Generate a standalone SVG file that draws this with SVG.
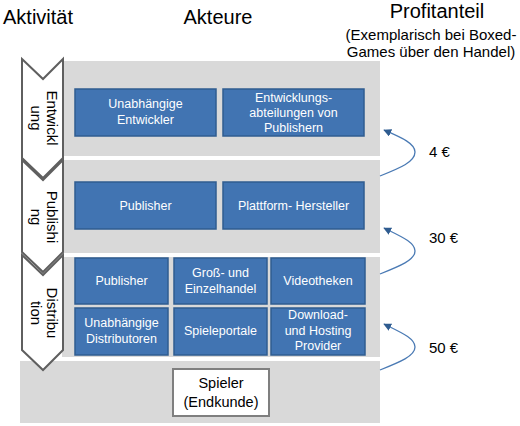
<svg xmlns="http://www.w3.org/2000/svg" width="520" height="426" viewBox="0 0 520 426">
<defs>
<style>
text{font-family:"Liberation Sans",Arial,sans-serif;}
.hdr{font-size:20px;fill:#000;}
.sub{font-size:15px;fill:#000;text-anchor:middle;}
.band{fill:#D9D9D9;}
.box{fill:#4174B2;stroke:#2F5C90;stroke-width:1.5;}
.bt{font-size:12.5px;fill:#fff;text-anchor:middle;}
.chev{fill:#fff;stroke:#5F5F5F;stroke-width:2;stroke-linejoin:miter;}
.ct{font-size:15px;fill:#000;text-anchor:middle;}
.arr{fill:none;stroke:#4A7AB4;stroke-width:1.3;}
.eur{font-size:15px;fill:#000;}
</style>
<marker id="ah" viewBox="0 0 10 10" refX="9" refY="5" markerWidth="8" markerHeight="8" markerUnits="userSpaceOnUse" orient="auto">
<path d="M0,0 L10,5 L0,10 z" fill="#2F5C90"/>
</marker>
</defs>

<g id="headers">
<text class="hdr" x="3" y="24">Aktivität</text>
<text class="hdr" x="218" y="24" text-anchor="middle">Akteure</text>
<text class="hdr" x="437" y="18" text-anchor="middle">Profitanteil</text>
<text class="sub" x="431" y="40">(Exemplarisch bei Boxed-</text>
<text class="sub" x="431" y="57">Games über den Handel)</text>
</g>

<g id="bands">
<rect class="band" x="62" y="61" width="318" height="95"/>
<rect class="band" x="62" y="160" width="318" height="93"/>
<rect class="band" x="62" y="257" width="318" height="100"/>
<rect class="band" x="20" y="361" width="360" height="62"/>
</g>

<g id="chevron-entwicklung">
<path class="chev" d="M22,59 L43,79 L63,59 L63,158 L43,178 L22,158 Z"/>
<g transform="translate(42.5,118) rotate(90)">
<text class="ct" x="0" y="-4.5">Entwickl</text>
<text class="ct" x="0" y="11.5">ung</text>
</g>
</g>

<g id="chevron-publishing">
<path class="chev" d="M22,160 L43,180 L63,160 L63,252 L43,272 L22,252 Z"/>
<g transform="translate(42.5,217) rotate(90)">
<text class="ct" x="0" y="-4.5">Publishi</text>
<text class="ct" x="0" y="11.5">ng</text>
</g>
</g>

<g id="chevron-distribution">
<path class="chev" d="M22,255 L43,275 L63,255 L63,350 L43,370 L22,350 Z"/>
<g transform="translate(42.5,313) rotate(90)">
<text class="ct" x="0" y="-4.5">Distribu</text>
<text class="ct" x="0" y="11.5">tion</text>
</g>
</g>

<g id="unabhaengige-entwickler">
<rect class="box" x="75" y="89" width="141" height="47"/>
<text class="bt" x="145.5" y="108">Unabhängige</text>
<text class="bt" x="145.5" y="124">Entwickler</text>
</g>
<g id="entwicklungsabteilungen">
<rect class="box" x="223" y="89" width="141" height="47"/>
<text class="bt" x="293.5" y="102">Entwicklungs-</text>
<text class="bt" x="293.5" y="117">abteilungen von</text>
<text class="bt" x="293.5" y="132">Publishern</text>
</g>
<g id="publisher-1">
<rect class="box" x="75" y="182" width="141" height="47"/>
<text class="bt" x="145.5" y="210">Publisher</text>
</g>
<g id="plattform-hersteller">
<rect class="box" x="223" y="182" width="141" height="47"/>
<text class="bt" x="293.5" y="210">Plattform- Hersteller</text>
</g>
<g id="publisher-2">
<rect class="box" x="75" y="258" width="93" height="46"/>
<text class="bt" x="121.5" y="285">Publisher</text>
</g>
<g id="gross-einzelhandel">
<rect class="box" x="174" y="258" width="93" height="46"/>
<text class="bt" x="220.5" y="277">Groß- und</text>
<text class="bt" x="220.5" y="293">Einzelhandel</text>
</g>
<g id="videotheken">
<rect class="box" x="271" y="258" width="94" height="46"/>
<text class="bt" x="318" y="285">Videotheken</text>
</g>
<g id="unabhaengige-distributoren">
<rect class="box" x="75" y="308" width="93" height="47"/>
<text class="bt" x="121.5" y="327">Unabhängige</text>
<text class="bt" x="121.5" y="343">Distributoren</text>
</g>
<g id="spieleportale">
<rect class="box" x="174" y="308" width="93" height="47"/>
<text class="bt" x="220.5" y="335">Spieleportale</text>
</g>
<g id="download-hosting">
<rect class="box" x="271" y="308" width="94" height="47"/>
<text class="bt" x="318" y="319">Download-</text>
<text class="bt" x="318" y="335">und Hosting</text>
<text class="bt" x="318" y="350">Provider</text>
</g>
<g id="spieler">
<rect x="173" y="369" width="96" height="47" fill="#fff" stroke="#7F7F7F" stroke-width="2"/>
<text x="221" y="388" font-size="14.5" text-anchor="middle" fill="#000">Spieler</text>
<text x="221" y="407" font-size="14.5" text-anchor="middle" fill="#000">(Endkunde)</text>
</g>

<g id="connectors">
<path class="arr" marker-end="url(#ah)" d="M380,176 C400,168 415,162 415,152 C415,143 400,137 384,130"/>
<path class="arr" marker-end="url(#ah)" d="M380,274 C400,266 415,260 415,251 C415,242 400,236 384,228"/>
<path class="arr" marker-end="url(#ah)" d="M380,370 C400,362 415,356 415,347 C415,338 400,332 384,324"/>
</g>

<g id="labels">
<text class="eur" x="429" y="157">4 €</text>
<text class="eur" x="429" y="243">30 €</text>
<text class="eur" x="429" y="353">50 €</text>
</g>
</svg>
